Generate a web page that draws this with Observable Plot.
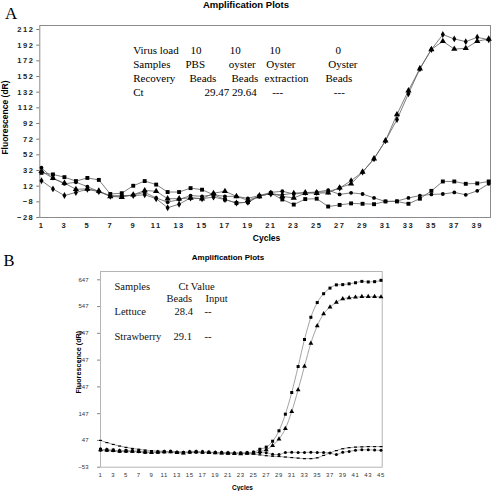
<!DOCTYPE html>
<html><head><meta charset="utf-8">
<script src="https://cdn.jsdelivr.net/npm/d3@7"></script>
<script src="https://cdn.jsdelivr.net/npm/@observablehq/plot@0.6"></script>
<style>
body{margin:0;background:#fff;}
#wrap{position:relative;width:493px;height:491px;overflow:hidden;background:#fff;}
#wrap svg{position:absolute;left:0;}
</style></head><body><div id="wrap"></div>
<script>
// ---------- Panel A data ----------
const cyclesA = [1,2,3,4,5,6,7,8,9,10,11,12,13,14,15,16,17,18,19,20,21,22,23,24,25,26,27,28,29,30,31,32,33,34,35,36,37,38,39,40];
const squareA = [29,27,23.5,18.5,22.5,20,2,3,12.5,18.5,14,4.5,4.5,9.5,7.5,1,-5,-9.5,-8.5,-1,3,-5,-11.5,-4.5,-4,-14,-12,-10,-10.5,-11,-7.5,-7.5,-10.5,-4,6,18,18,15,15.5,18];
const circleA = [35.5,22,15,17,11.5,5,0,-1,1,4,-3,-8.5,-5,0,-1,1,-1,-1,-3.5,0,4,5.5,2,3.5,4.5,7,1.5,3.5,2,-3,-7.5,-7,-3,0,1.5,2,4,1,6,15];
const triangleA = [31,22,16,8,8.5,6,-1,-2,1,6.5,5.5,-4,-4,-3,-4,3,5.5,-1,-6,-1,3,-1,-3,3,3,3.5,10,15,30,47,70,103.5,134,162,186.5,197,187,188,197,200];
const diamondA = [19,8.5,0,4,8,5,-1,0,0,1,-4,-15.5,-11,-3,-4,-2,-5,-9.5,-8.5,0,2,1,3,4,4,5,9.5,19,30,47,70,97,130,162,186.5,205.5,200,196.5,202,199];
const ticksAX = [1,3,5,7,9,11,13,15,17,19,21,23,25,27,29,31,33,35,37,39];
const ticksAY = [-28,-8,12,32,52,72,92,112,132,152,172,192,212];
const tableA = [
  ["Virus load","10","10","10","0"],
  ["Samples","PBS","oyster","Oyster","Oyster"],
  ["Recovery","Beads","Beads","extraction","Beads"],
  ["Ct","29.47","29.64","---","---"]
];

// ---------- Panel B data ----------
const cyclesB = [1,2,3,4,5,6,7,8,9,10,11,12,13,14,15,16,17,18,19,20,21,22,23,24,25,26,27,28,29,30,31,32,33,34,35,36,37,38,39,40,41,42,43,44,45];
const squareB = [14,12,11,8,9,8,7,4,4,3,5,6,2,1,4,5,4,3,2,1,0,-1,0,1,3,14,22,44,83,145,226,323,424,507,562,595,616,628,629,632,636,641,639,640,645];
const triangleB = [12,11,9,7,7,6,5,3,2,3,4,4,2,0,3,4,3,2,1,0,-1,-2,-3,-1,0,5,12,28,52,91,155,236,324,410,475,520,545,563,576,580,582,584,584,584,583];
const circleB = [10,9,8,6,6,6,5,2,2,3,4,5,3,2,3,3,2,2,1,1,0,0,-1,0,1,1,1,-5,-6,2,3,2,2,3,2,2,0,-6,3,6,10,12,12,11,10];
const dashB = [47,39,32,26,21,17,14,11,9,7,6,5,4,4,3,3,2,2,1,1,0,0,-1,-2,-4,-7,-10,-12,-13,-15,-17,-19,-21,-21,-18,-9,1,9,16,20,22,23,24,24,24];
const ticksBX = [1,3,5,7,9,11,13,15,17,19,21,23,25,27,29,31,33,35,37,39,41,43,45];
const ticksBY = [-53,47,147,247,347,447,547,647];
const tableB = [
  ["Samples","Ct Value"],
  ["Beads","Input"],
  ["Lettuce","28.4","--"],
  ["Strawberry","29.1","--"]
];

const dashSymbol = {draw(ctx, size){ const w = 3; ctx.rect(-w/2, -0.6, w, 1.2); }};

function toRows(cycles, list){
  const out = [];
  list.forEach(s => s.values.forEach((v,i) => out.push({cycle: cycles[i], value: v, series: s.name})));
  return out;
}
function note(ml, mt, str, X, Y, o = {}){
  return Plot.text([str], {text: d => d, frameAnchor: "top-left", dx: X - ml, dy: Y - mt,
    lineAnchor: "middle", textAnchor: "start", ...o});
}
const serif = "'Liberation Serif','Times New Roman',serif";
const sans = "'Liberation Sans',Arial,sans-serif";

// ---------- Panel A ----------
const seriesA = [
  {name:"square", values: squareA, symbol:"square", r:2.2},
  {name:"circle", values: circleA, symbol:"circle", r:1.9},
  {name:"triangle", values: triangleA, symbol:"triangle", r:2.3},
  {name:"diamond", values: diamondA, symbol:"diamond", r:2.1}
];
const rowsA = toRows(cyclesA, seriesA);
const MLA = 39.3, MTA = 25;
const colXA = [[132.7,190,229.3,269,335],[132.7,185,228.3,265.7,327.7],[132.7,189,231,264,325],[132.7,204,231.5,271.7,333.3]];
const rowYA = [50,64.3,78.3,91.7];
const tableMarksA = [];
tableA.forEach((row,i) => row.forEach((t,j) => tableMarksA.push(note(MLA, MTA, t, colXA[i][j], rowYA[i], {fontFamily: serif, fontSize: 11, fill: "#000"}))));

const plotA = Plot.plot({
  width: 493, height: 245,
  marginLeft: MLA, marginRight: 3, marginTop: MTA, marginBottom: 28,
  x: {domain: [0.852, 40.157], axis: null},
  y: {domain: [-28, 217.1], axis: null},
  style: {fontFamily: sans, background: "white", overflow: "visible"},
  marks: [
    Plot.frame({stroke: "#8a8a8a", strokeWidth: 1}),
    Plot.axisY({ticks: ticksAY, tickSize: 3, tickPadding: 2.5, fontSize: 7.5, fontWeight: "bold", fill: "#222", stroke: "#777", label: null}),
    Plot.axisX({ticks: ticksAX, tickSize: 0, tickPadding: 5, fontSize: 7.5, fontWeight: "bold", fill: "#222", label: null}),
    ...seriesA.map(s => Plot.line(rowsA.filter(d => d.series === s.name), {x: "cycle", y: "value", stroke: "#5e5e5e", strokeWidth: 0.8})),
    ...seriesA.map(s => Plot.dot(rowsA.filter(d => d.series === s.name), {x: "cycle", y: "value", symbol: s.symbol, r: s.r, fill: "#000", stroke: "none"})),
    ...tableMarksA,
    note(MLA, MTA, "Amplification Plots", 245.5, 4.8, {textAnchor: "middle", fontFamily: sans, fontWeight: "bold", fontSize: 9.5, ariaLabel: "ls13"}),
    note(MLA, MTA, "Fluorescence (dR)", 4.5, 117, {textAnchor: "middle", rotate: -90, fontFamily: sans, fontWeight: "bold", fontSize: 8.5, ariaLabel: "ls12"}),
    note(MLA, MTA, "Cycles", 266, 237.5, {textAnchor: "middle", fontFamily: sans, fontWeight: "bold", fontSize: 8.5, ariaLabel: "ls08"}),
    note(MLA, MTA, "A", 4.5, 13, {fontFamily: serif, fontSize: 17})
  ]
});
plotA.style.top = "0px";

// ---------- Panel B ----------
const seriesB = [
  {name:"square", values: squareB, symbol:"square", r:1.7},
  {name:"triangle", values: triangleB, symbol:"triangle", r:1.8},
  {name:"circle", values: circleB, symbol:"circle", r:1.5},
  {name:"dash", values: dashB, symbol: dashSymbol, r:1.5}
];
const rowsB = toRows(cyclesB, seriesB);
const MLB = 100, MTB = 26, TOPB = 245;
const colXB = [[114,178],[166,205],[114,174,204],[114,173,204]];
const rowYB = [286,298.3,311,336];
const tableMarksB = [];
tableB.forEach((row,i) => row.forEach((t,j) => tableMarksB.push(note(MLB, MTB, t, colXB[i][j], rowYB[i] - TOPB, {fontFamily: serif, fontSize: 10.5, fill: "#111"}))));

const plotB = Plot.plot({
  width: 493, height: 246,
  marginLeft: MLB, marginRight: 111.3, marginTop: MTB, marginBottom: 24.3,
  x: {domain: [1, 45.19], axis: null},
  y: {domain: [-53, 678], axis: null},
  style: {fontFamily: sans, background: "white", overflow: "visible"},
  marks: [
    Plot.frame({stroke: "#b5b5b5", strokeWidth: 1}),
    Plot.axisY({ticks: ticksBY, tickSize: 3, tickPadding: 9, fontSize: 6, fill: "#333", stroke: "#888", label: null}),
    Plot.axisX({ticks: ticksBX, tickSize: 0, tickPadding: 6, fontSize: 6, fill: "#333", label: null}),
    ...seriesB.map(s => Plot.line(rowsB.filter(d => d.series === s.name), {x: "cycle", y: "value", stroke: "#8c8c8c", strokeWidth: 0.8, curve: "monotone-x"})),
    ...seriesB.map(s => Plot.dot(rowsB.filter(d => d.series === s.name), {x: "cycle", y: "value", symbol: s.symbol, r: s.r, fill: "#000", stroke: "none"})),
    ...tableMarksB,
    note(MLB, MTB, "Amplification Plots", 227.5, 256.7 - TOPB, {textAnchor: "middle", fontFamily: sans, fontWeight: "bold", fontSize: 8}),
    note(MLB, MTB, "Fluorescence (dR)", 78.3, 361.7 - TOPB, {textAnchor: "middle", rotate: -90, fontFamily: sans, fontWeight: "bold", fontSize: 7.2}),
    note(MLB, MTB, "Cycles", 242, 487 - TOPB, {textAnchor: "middle", fontFamily: sans, fontWeight: "bold", fontSize: 6.5}),
    note(MLB, MTB, "B", 3, 260.5 - TOPB, {fontFamily: serif, fontSize: 16.5})
  ]
});
plotB.style.top = TOPB + "px";

const wrap = document.getElementById("wrap");
wrap.appendChild(plotA);
wrap.appendChild(plotB);

// letter spacing tweaks for the stretched-looking labels of panel A
d3.select(plotA).selectAll('g[aria-label="y-axis tick label"] text, g[aria-label="x-axis tick label"] text').attr("letter-spacing", "1.5px");
d3.select(plotB).selectAll('g[aria-label="x-axis tick label"] text').attr("letter-spacing", "0.6px");
const ls = {ls13: 1.3, ls12: 1.2, ls08: 0.9};
for (const [k, v] of Object.entries(ls)) {
  d3.selectAll(`#wrap g[aria-label="${k}"] text`).attr("letter-spacing", v + "px");
}
</script></body></html>
